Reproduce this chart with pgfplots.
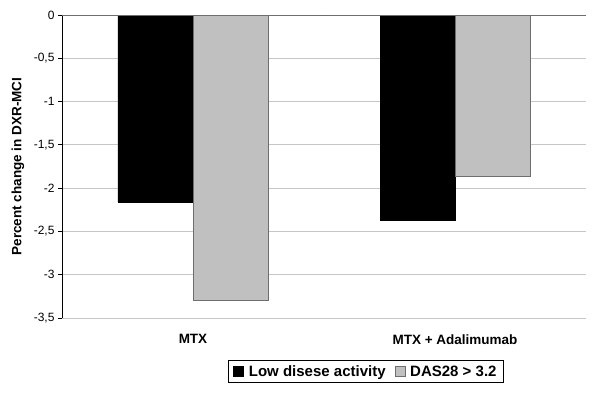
\documentclass[border=0pt]{standalone}
\usepackage{fontspec}
\setmainfont{Liberation Sans}
\usepackage{pgfplots}
\pgfplotsset{compat=1.18}
\definecolor{barGray}{RGB}{192,192,192}
\definecolor{axGray}{RGB}{110,110,110}
\begin{document}
\begin{tikzpicture}[x=1pt,y=1pt]
\useasboundingbox (-62,-84) rectangle (538,318);
\begin{axis}[
  scale only axis,
  width=524pt, height=303pt,
  ymin=-3.5, ymax=0,
  xmin=-0.5, xmax=1.5,
  ybar=0pt, bar width=75pt,
  xtick={0,1}, xticklabels={MTX, MTX + Adalimumab},
  xticklabel style={font=\fontsize{13.5}{15}\selectfont\bfseries, yshift=-9pt},
  ytick={-3.5,-3,...,0},
  yticklabel style={font=\fontsize{12}{14}\selectfont},
  /pgf/number format/assume math mode=true,
  /pgf/number format/use comma,
  /pgf/number format/fixed,
  axis x line*=bottom,
  axis y line*=left,
  x axis line style={draw=none},
  y axis line style={black, thick},
  xtick style={draw=none},
  ytick style={black, thick},
  tick align=outside,
  major tick length=4pt,
  ymajorgrids,
  grid style={gray!45, line width=0.8pt},
  ylabel={Percent change in DXR-MCI},
  ylabel style={font=\fontsize{13.5}{15}\selectfont\bfseries,
    at={(axis description cs:-0.084,0.5)}, anchor=center},
  legend columns=2,
  legend style={at={(0.580,-0.1386)}, anchor=north, draw=black, thick,
    font=\fontsize{15}{17}\selectfont\bfseries,
    /tikz/every even column/.append style={column sep=7pt},
    inner ysep=3pt, inner xsep=5pt},
  legend image code/.code={\draw[#1, thin] (0pt,-5pt) rectangle (10pt,5pt); \path (13pt,0pt);},
]
\addplot[fill=black, draw=black] coordinates {(0,-2.16) (1,-2.37)};
\addplot[fill=barGray, draw=axGray, thick] coordinates {(0,-3.30) (1,-1.87)};
\legend{Low disese activity, DAS28 > 3.2}
\draw[axGray, line width=1.3pt] (rel axis cs:0,1) -- (rel axis cs:1,1);
\draw[black, thick] (axis cs:0.5,0) -- ++(0,-4pt);
\draw[black, thick] (axis cs:1.5,0) -- ++(0,-4pt);
\end{axis}
\end{tikzpicture}
\end{document}
